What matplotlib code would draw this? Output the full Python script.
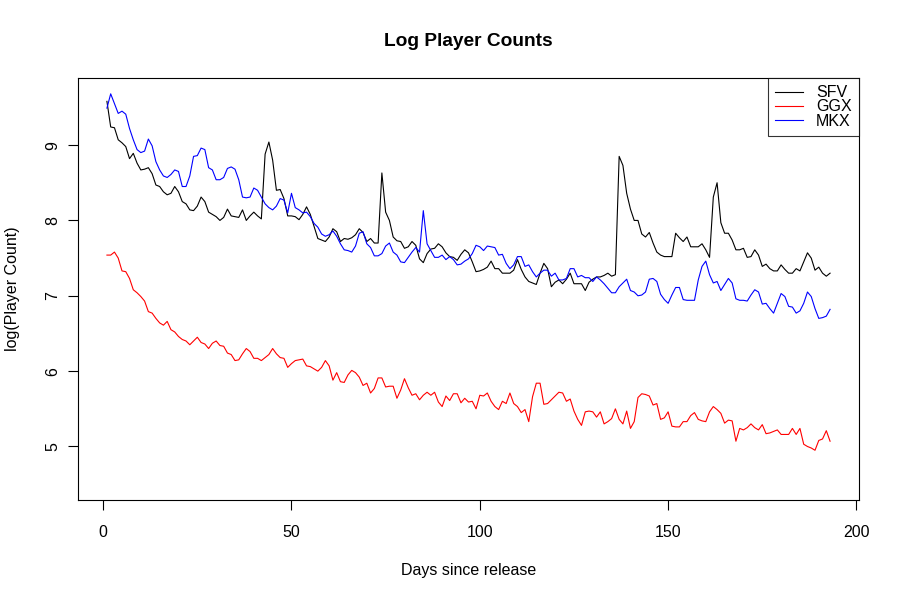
import matplotlib
matplotlib.use("Agg")
import matplotlib.pyplot as plt

plt.rcParams['font.family'] = ['Liberation Sans', 'DejaVu Sans']

days = list(range(1, 194))

sfv = [9.58, 9.24, 9.23, 9.07, 9.03, 8.98, 8.82, 8.89, 8.76, 8.67,
       8.68, 8.70, 8.62, 8.47, 8.45, 8.38, 8.34, 8.36, 8.45, 8.38,
       8.25, 8.22, 8.14, 8.13, 8.19, 8.31, 8.25, 8.11, 8.08, 8.05,
       8.00, 8.04, 8.15, 8.06, 8.05, 8.04, 8.14, 8.00, 8.06, 8.11,
       8.06, 8.02, 8.88, 9.04, 8.80, 8.40, 8.41, 8.29, 8.06, 8.06,
       8.05, 8.01, 8.08, 8.18, 8.08, 7.92, 7.76, 7.74, 7.72, 7.78,
       7.89, 7.85, 7.72, 7.76, 7.75, 7.77, 7.81, 7.89, 7.84, 7.72,
       7.76, 7.70, 7.70, 8.63, 8.11, 8.00, 7.78, 7.73, 7.72, 7.63,
       7.65, 7.72, 7.67, 7.49, 7.44, 7.56, 7.62, 7.63, 7.69, 7.65,
       7.57, 7.52, 7.51, 7.47, 7.55, 7.61, 7.57, 7.45, 7.32, 7.33,
       7.35, 7.38, 7.46, 7.36, 7.36, 7.30, 7.30, 7.30, 7.34, 7.48,
       7.35, 7.25, 7.19, 7.17, 7.15, 7.30, 7.43, 7.36, 7.12, 7.18,
       7.21, 7.16, 7.22, 7.30, 7.16, 7.16, 7.16, 7.07, 7.18, 7.22,
       7.25, 7.25, 7.27, 7.30, 7.26, 7.28, 8.85, 8.73, 8.36, 8.15,
       8.00, 8.00, 7.82, 7.78, 7.84, 7.70, 7.58, 7.54, 7.52, 7.52,
       7.52, 7.83, 7.77, 7.72, 7.78, 7.65, 7.65, 7.65, 7.69, 7.61,
       7.51, 8.31, 8.50, 7.97, 7.83, 7.83, 7.74, 7.61, 7.61, 7.63,
       7.51, 7.52, 7.61, 7.54, 7.39, 7.42, 7.36, 7.33, 7.33, 7.41,
       7.35, 7.30, 7.30, 7.36, 7.33, 7.45, 7.57, 7.50, 7.34, 7.38,
       7.30, 7.26, 7.30]

ggx = [7.54, 7.54, 7.58, 7.50, 7.33, 7.32, 7.23, 7.08, 7.04, 6.99,
       6.93, 6.79, 6.77, 6.70, 6.64, 6.61, 6.66, 6.55, 6.52, 6.46,
       6.42, 6.40, 6.35, 6.40, 6.45, 6.38, 6.36, 6.30, 6.37, 6.40,
       6.34, 6.33, 6.24, 6.22, 6.14, 6.15, 6.23, 6.30, 6.26, 6.17,
       6.17, 6.14, 6.18, 6.22, 6.30, 6.23, 6.18, 6.17, 6.05, 6.10,
       6.14, 6.15, 6.16, 6.07, 6.06, 6.03, 6.00, 6.05, 6.14, 6.07,
       5.88, 5.98, 5.86, 5.85, 5.95, 6.01, 5.98, 5.92, 5.81, 5.84,
       5.71, 5.77, 5.91, 5.91, 5.79, 5.80, 5.80, 5.64, 5.75, 5.90,
       5.78, 5.68, 5.70, 5.62, 5.68, 5.72, 5.68, 5.72, 5.59, 5.53,
       5.67, 5.61, 5.70, 5.70, 5.58, 5.64, 5.59, 5.60, 5.50, 5.68,
       5.67, 5.71, 5.60, 5.53, 5.49, 5.60, 5.57, 5.71, 5.57, 5.53,
       5.45, 5.49, 5.33, 5.66, 5.84, 5.84, 5.56, 5.57, 5.62, 5.67,
       5.72, 5.71, 5.60, 5.63, 5.47, 5.36, 5.28, 5.46, 5.47, 5.46,
       5.39, 5.46, 5.30, 5.33, 5.37, 5.50, 5.36, 5.30, 5.47, 5.24,
       5.33, 5.65, 5.70, 5.69, 5.67, 5.55, 5.57, 5.36, 5.38, 5.46,
       5.27, 5.26, 5.26, 5.33, 5.33, 5.41, 5.45, 5.36, 5.34, 5.33,
       5.46, 5.53, 5.49, 5.44, 5.31, 5.35, 5.34, 5.07, 5.24, 5.22,
       5.25, 5.30, 5.25, 5.22, 5.29, 5.17, 5.18, 5.20, 5.22, 5.16,
       5.16, 5.16, 5.24, 5.16, 5.24, 5.03, 5.00, 4.98, 4.95, 5.08,
       5.10, 5.21, 5.07]

mkx = [9.49, 9.68, 9.55, 9.42, 9.45, 9.41, 9.22, 9.07, 8.94, 8.90,
       8.92, 9.08, 8.99, 8.78, 8.67, 8.59, 8.57, 8.61, 8.67, 8.65,
       8.45, 8.45, 8.59, 8.85, 8.86, 8.96, 8.94, 8.70, 8.67, 8.54,
       8.54, 8.57, 8.69, 8.71, 8.68, 8.54, 8.31, 8.30, 8.31, 8.43,
       8.40, 8.31, 8.22, 8.17, 8.14, 8.19, 8.29, 8.27, 8.10, 8.36,
       8.17, 8.14, 8.10, 8.11, 8.05, 7.96, 7.91, 7.82, 7.79, 7.81,
       7.86, 7.79, 7.69, 7.61, 7.60, 7.58, 7.66, 7.83, 7.85, 7.69,
       7.64, 7.53, 7.53, 7.56, 7.66, 7.70, 7.58, 7.54, 7.45, 7.44,
       7.51, 7.58, 7.64, 7.58, 8.13, 7.69, 7.60, 7.51, 7.51, 7.54,
       7.48, 7.52, 7.48, 7.41, 7.42, 7.46, 7.49, 7.56, 7.67, 7.65,
       7.60, 7.66, 7.65, 7.64, 7.54, 7.55, 7.43, 7.36, 7.41, 7.52,
       7.52, 7.39, 7.41, 7.32, 7.25, 7.30, 7.34, 7.34, 7.26, 7.30,
       7.21, 7.21, 7.23, 7.36, 7.36, 7.25, 7.27, 7.24, 7.24, 7.19,
       7.25, 7.21, 7.16, 7.10, 7.04, 7.04, 7.12, 7.17, 7.22, 7.07,
       7.05, 7.00, 7.01, 7.05, 7.22, 7.23, 7.19, 7.02, 6.95, 6.90,
       7.01, 7.11, 7.11, 6.95, 6.94, 6.94, 6.94, 7.21, 7.39, 7.46,
       7.28, 7.17, 7.19, 7.07, 7.15, 7.23, 7.17, 6.96, 6.94, 6.94,
       6.93, 7.01, 7.08, 7.05, 6.89, 6.90, 6.83, 6.77, 6.90, 7.03,
       6.99, 6.86, 6.85, 6.77, 6.80, 6.90, 7.05, 6.99, 6.83, 6.70,
       6.71, 6.73, 6.82]

fig = plt.figure(figsize=(9, 6), dpi=100)
ax = fig.add_axes([78/900, 1 - 500/600, 781/900, 422/600])

ax.plot(days, sfv, color='black', lw=0.8, label='SFV')
ax.plot(days, ggx, color='red', lw=0.8, label='GGX')
ax.plot(days, mkx, color='blue', lw=0.8, label='MKX')

ax.set_xlim(-6.68, 200.68)
ax.set_ylim(4.29, 9.89)
ax.set_xticks([0, 50, 100, 150, 200])
ax.set_yticks([5, 6, 7, 8, 9])
for s in ax.spines.values():
    s.set_linewidth(0.8)
ax.tick_params(direction='out', length=7, width=0.8, labelsize=11.5)
ax.tick_params(axis='x', pad=11)
ax.tick_params(axis='y', pad=6)
for lab in ax.get_yticklabels():
    lab.set_rotation(90)
    lab.set_va('center')

ax.text(0.5, (500 - 41) / 422, 'Log Player Counts', transform=ax.transAxes,
        ha='center', va='center', fontsize=13.8, fontweight='bold')
ax.set_xlabel('Days since release', fontsize=11.5)
ax.set_ylabel('log(Player Count)', fontsize=11.5)
ax.xaxis.set_label_coords(0.5, (500 - 571) / 422)
ax.yaxis.set_label_coords((13 - 78) / 781, 0.5)
ax.xaxis.label.set_va('center')
ax.yaxis.label.set_va('center')

leg = ax.legend(loc='upper right', fontsize=11.5, borderaxespad=0, fancybox=False,
                handlelength=1.75, handletextpad=0.8, labelspacing=-0.05,
                borderpad=0.45)
leg.get_frame().set_edgecolor('black')
leg.get_frame().set_linewidth(0.8)

fig.savefig('out.png', dpi=100)
